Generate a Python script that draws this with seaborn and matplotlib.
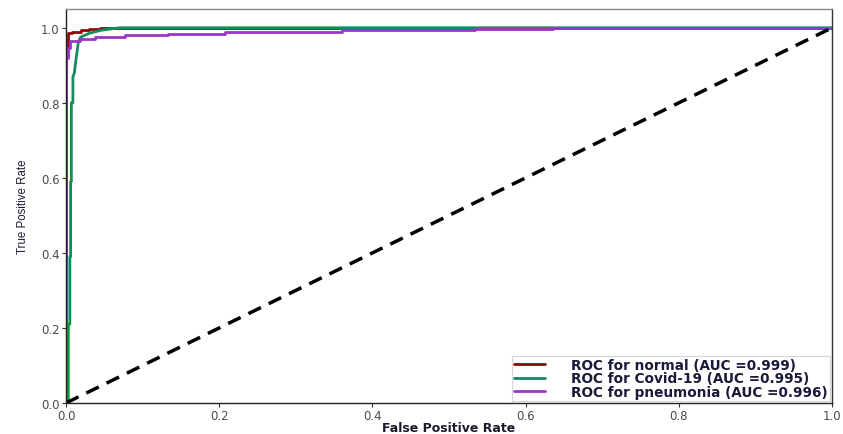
import matplotlib
matplotlib.use("Agg")
import matplotlib.pyplot as plt
from matplotlib import font_manager
import seaborn as sns
import pandas as pd

# ROC curve points per class (false positive rate, true positive rate)
normal_fpr = [0.0, 0.0, 0.002, 0.002, 0.003, 0.003, 0.008, 0.008, 0.02, 0.02,
              0.03, 0.03, 0.045, 0.045, 1.0]
normal_tpr = [0.0, 0.94, 0.94, 0.975, 0.975, 0.987, 0.987, 0.99, 0.99, 0.993,
              0.993, 0.996, 0.996, 1.0, 1.0]

covid_fpr = [0.0, 0.003, 0.003, 0.005, 0.005, 0.006, 0.006, 0.007, 0.007, 0.009, 0.009,
             0.011, 0.012, 0.014, 0.016, 0.019, 0.03, 0.045, 0.07, 1.0]
covid_tpr = [0.0, 0.0, 0.21, 0.21, 0.39, 0.39, 0.59, 0.59, 0.80, 0.80, 0.87,
             0.88, 0.90, 0.93, 0.96, 0.975, 0.985, 0.993, 1.0, 1.0]

pneu_fpr = [0.0, 0.0, 0.002, 0.002, 0.005, 0.005, 0.018, 0.018, 0.038, 0.038,
            0.077, 0.077, 0.133, 0.133, 0.207, 0.207, 0.36, 0.36, 0.534, 0.534,
            0.636, 0.636, 1.0]
pneu_tpr = [0.0, 0.92, 0.92, 0.945, 0.945, 0.966, 0.966, 0.97, 0.97, 0.975,
            0.975, 0.98, 0.98, 0.984, 0.984, 0.989, 0.989, 0.993, 0.993, 0.997,
            0.997, 1.0, 1.0]

auc_values = {"normal": 0.999, "Covid-19": 0.995, "pneumonia": 0.996}
class_colors = {"normal": "#8b0a0a", "Covid-19": "#178a5e", "pneumonia": "#9b35c8"}

frames = []
for name, fpr, tpr in [("normal", normal_fpr, normal_tpr),
                       ("Covid-19", covid_fpr, covid_tpr),
                       ("pneumonia", pneu_fpr, pneu_tpr)]:
    label = f"ROC for {name} (AUC ={auc_values[name]:.3f})"
    frames.append(pd.DataFrame({"fpr": fpr, "tpr": tpr, "curve": label}))
roc = pd.concat(frames, ignore_index=True)
palette = {f"ROC for {n} (AUC ={auc_values[n]:.3f})": c for n, c in class_colors.items()}

sns.set_style("white")
plt.rcParams["font.family"] = ["DejaVu Sans"]

installed = {f.name for f in font_manager.fontManager.ttflist}
if "Liberation Sans Narrow" in installed:
    ylab_font, ylab_size = "Liberation Sans Narrow", 10
else:
    ylab_font, ylab_size = "Liberation Sans", 8.3

fig = plt.figure(figsize=(8.43, 4.35), dpi=100)
ax = fig.add_axes([0.0783, 0.0713, 0.9087, 0.9057])

sns.lineplot(data=roc, x="fpr", y="tpr", hue="curve", palette=palette,
             estimator=None, sort=False, lw=2, ax=ax)
# chance diagonal
sns.lineplot(x=[0, 1], y=[0, 1], color="black", lw=2.5, ax=ax,
             linestyle=(0, (4, 2.5)), legend=False)

ax.set_xlim(0, 1.0)
ax.set_ylim(0, 1.05)
ax.set_xticks([0.0, 0.2, 0.4, 0.6, 0.8, 1.0])
ax.set_yticks([0.0, 0.2, 0.4, 0.6, 0.8, 1.0])
ax.tick_params(axis="both", labelsize=8.5, colors="#333333", length=3,
               direction="out", bottom=True, left=True, width=0.8, pad=1.5)
for lbl in ax.get_xticklabels() + ax.get_yticklabels():
    lbl.set_color("#4a4a4a")

for side, col in [("top", "#888888"), ("right", "#333333"),
                  ("left", "#222222"), ("bottom", "#222222")]:
    ax.spines[side].set_color(col)
    ax.spines[side].set_linewidth(1.0)

ax.set_xlabel("False Positive Rate", fontsize=9, fontweight="bold",
              color="#1a1a2e", labelpad=-1)
ax.set_ylabel("True Positive Rate", fontsize=ylab_size, color="#1a1a3a",
              family=[ylab_font, "DejaVu Sans"], labelpad=9)

leg = ax.legend(loc="lower right", prop={"weight": "bold", "size": 9.8},
                handlelength=2.3, handletextpad=1.9, borderpad=0.15,
                labelspacing=-0.04, frameon=True, fancybox=False,
                borderaxespad=0.15)
leg.get_frame().set_edgecolor("#cccccc")
leg.get_frame().set_linewidth(0.8)
for txt in leg.get_texts():
    txt.set_color("#1a1a3a")

fig.savefig("out.png", dpi=100)
